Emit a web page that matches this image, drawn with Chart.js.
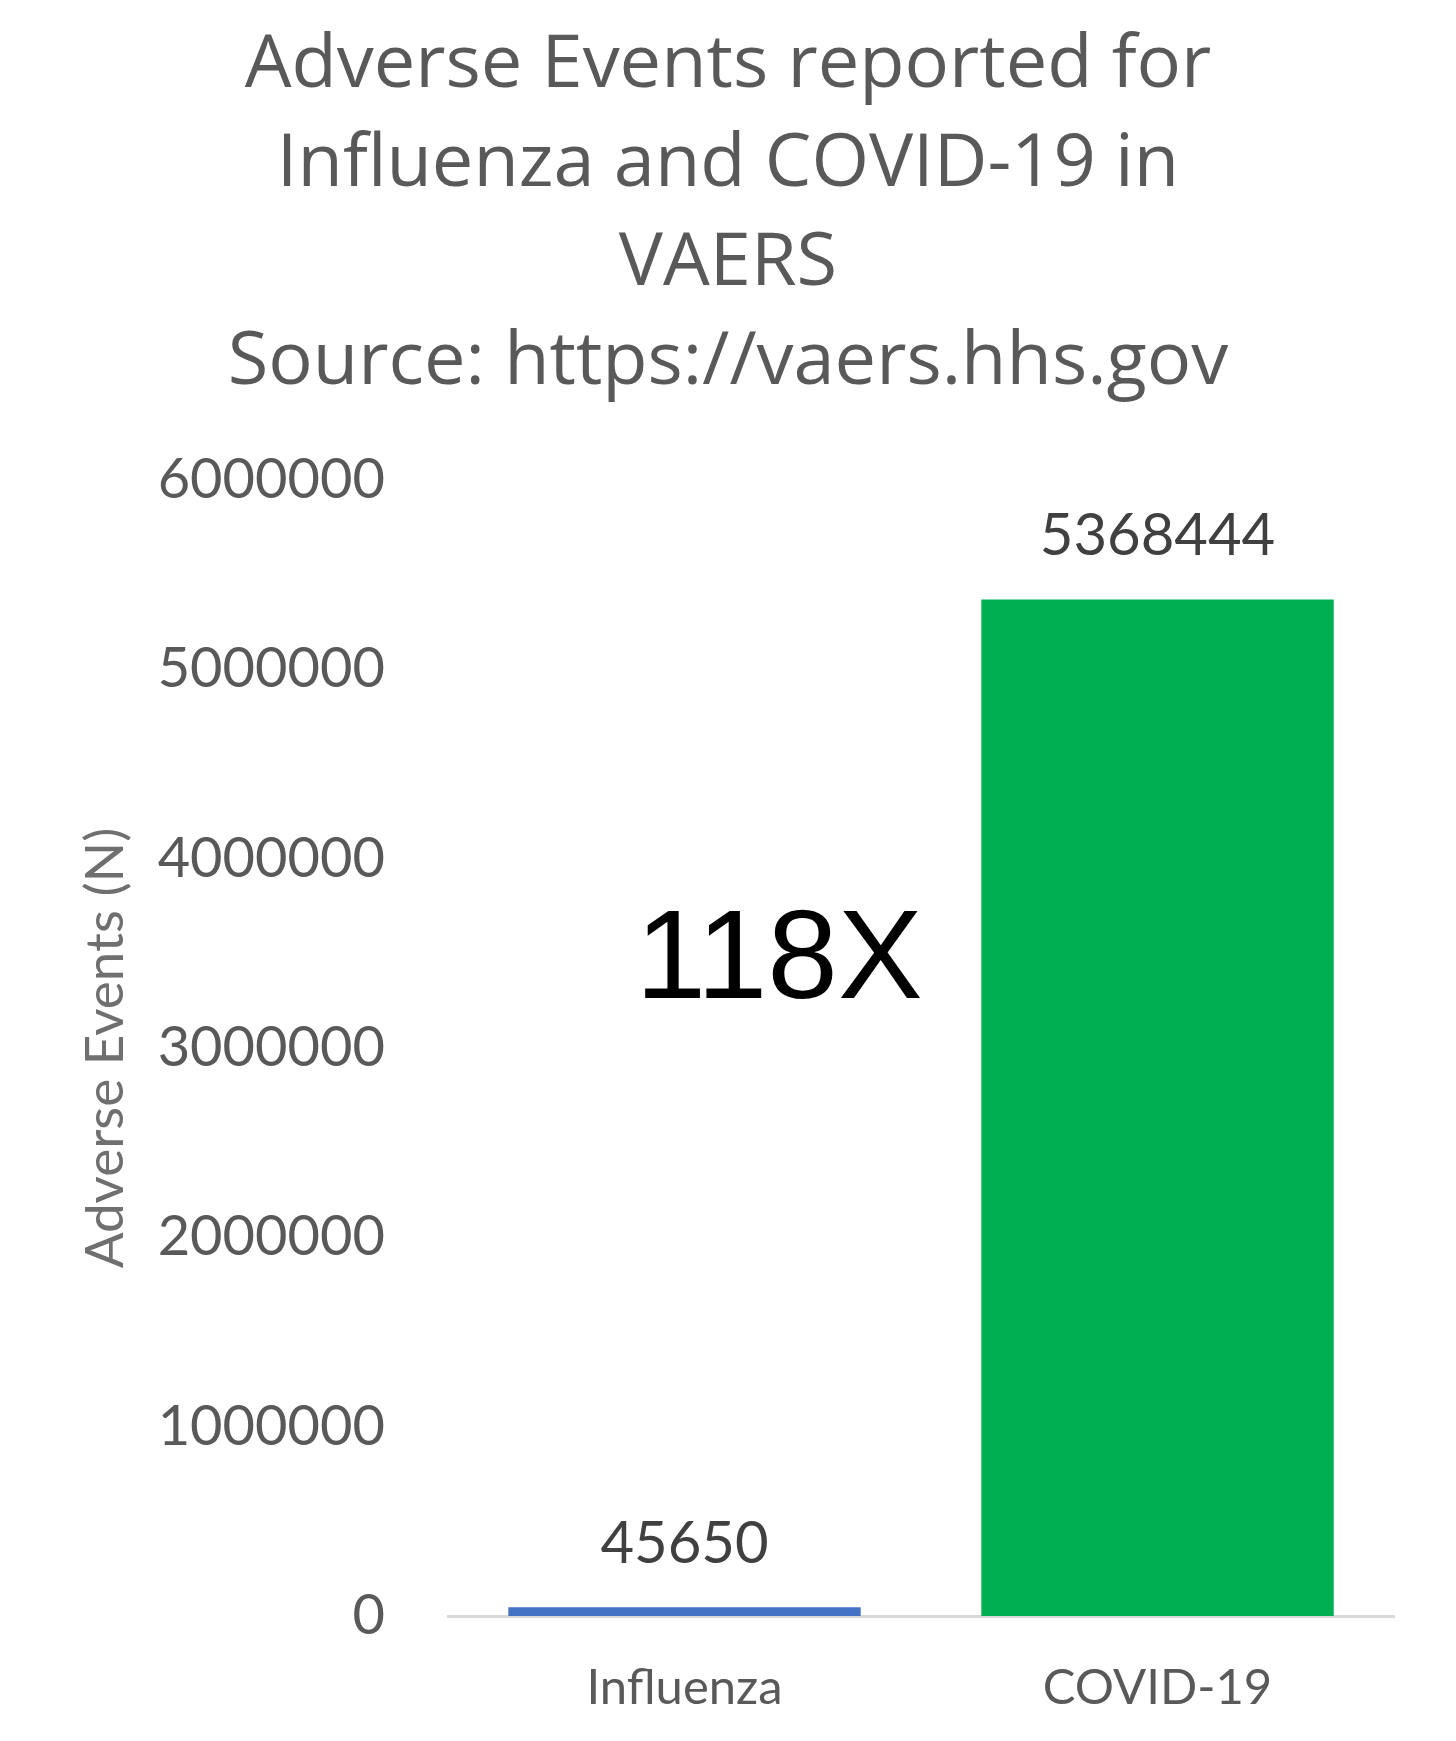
<!DOCTYPE html>
<html>
<head>
<meta charset="utf-8">
<title>Adverse Events reported for Influenza and COVID-19 in VAERS</title>
<script src="https://cdn.jsdelivr.net/npm/chart.js@4"></script>
<style>
    html, body { margin: 0; padding: 0; background: #ffffff; }
    #wrap { width: 1456px; height: 1741px; position: relative; }
</style>
</head>
<body>
<div id="wrap"><canvas id="vaersChart"></canvas></div>
<script>
// Chart data
const categories = ['Influenza', 'COVID-19'];
const adverseEvents = [45650, 5368444];
const barColors = ['#4472C4', '#00B050'];
const titleLines = [
    'Adverse Events reported for',
    'Influenza and COVID-19 in',
    'VAERS',
    'Source: https://vaers.hhs.gov'
];
const yTickMax = 6000000;
const yTickStep = 1000000;
const ratioLabel = '118X';

// where the ratio text sits, in axis units
const ratioAnchor = { x: 0.2, y: 3450000 };

const FONT = 'Lato, "Open Sans", sans-serif';

// Value labels above the bars
const valueLabels = {
    id: 'valueLabels',
    afterDatasetsDraw(chart) {
        const ctx = chart.ctx;
        const meta = chart.getDatasetMeta(0);
        ctx.save();
        ctx.font = '58px ' + FONT;
        ctx.fillStyle = '#404040';
        ctx.textAlign = 'center';
        ctx.textBaseline = 'middle';
        meta.data.forEach((bar, i) => {
            ctx.fillText(String(chart.data.datasets[0].data[i]), bar.x, bar.y - 63);
        });
        ctx.restore();
    }
};

// Big "118X" text in the middle
const ratioText = {
    id: 'ratioText',
    afterDraw(chart) {
        const ctx = chart.ctx;
        const x = chart.scales.x.getPixelForValue(ratioAnchor.x);
        const y = chart.scales.y.getPixelForValue(ratioAnchor.y);
        ctx.save();
        ctx.font = '127px "Liberation Sans", Arial, sans-serif';
        ctx.fillStyle = '#000000';
        ctx.textAlign = 'center';
        ctx.textBaseline = 'middle';
        ctx.fillText(ratioLabel, x, y);
        ctx.restore();
    }
};

document.addEventListener('DOMContentLoaded', function() {
    const ctx = document.getElementById('vaersChart').getContext('2d');
    new Chart(ctx, {
        type: 'bar',
        data: {
            labels: categories,
            datasets: [{
                data: adverseEvents,
                backgroundColor: barColors,
                borderWidth: 0,
                barPercentage: 0.745,
                categoryPercentage: 1.0
            }]
        },
        options: {
            responsive: true,
            maintainAspectRatio: false,
            animation: false,
            layout: { padding: { left: 62, right: 62, top: 0, bottom: 0 } },
            scales: {
                x: {
                    afterFit: (axis) => { axis.height = 125; },
                    grid: { display: false, drawTicks: false },
                    border: { display: true, color: '#d9d9d9', width: 3 },
                    ticks: {
                        color: '#595959',
                        padding: 43,
                        font: { family: FONT, size: 49 }
                    }
                },
                y: {
                    min: 0,
                    max: yTickMax,
                    afterFit: (axis) => { axis.width = 386; },
                    grid: { display: false, drawTicks: false },
                    border: { display: false },
                    ticks: {
                        stepSize: yTickStep,
                        color: '#595959',
                        padding: 63,
                        font: { family: FONT, size: 56 },
                        callback: (v) => String(v)
                    },
                    title: {
                        display: true,
                        text: 'Adverse Events (N)',
                        color: '#6f6f6f',
                        padding: { top: 12, bottom: 0 },
                        font: { family: FONT, size: 53 }
                    }
                }
            },
            plugins: {
                legend: { display: false },
                tooltip: { enabled: false },
                title: {
                    display: true,
                    text: titleLines,
                    color: '#595959',
                    padding: { top: 16, bottom: 68 },
                    font: { family: '"Open Sans", Lato, sans-serif', size: 74, weight: 'normal', lineHeight: 1.338 }
                }
            }
        },
        plugins: [valueLabels, ratioText]
    });
});
</script>
</body>
</html>
